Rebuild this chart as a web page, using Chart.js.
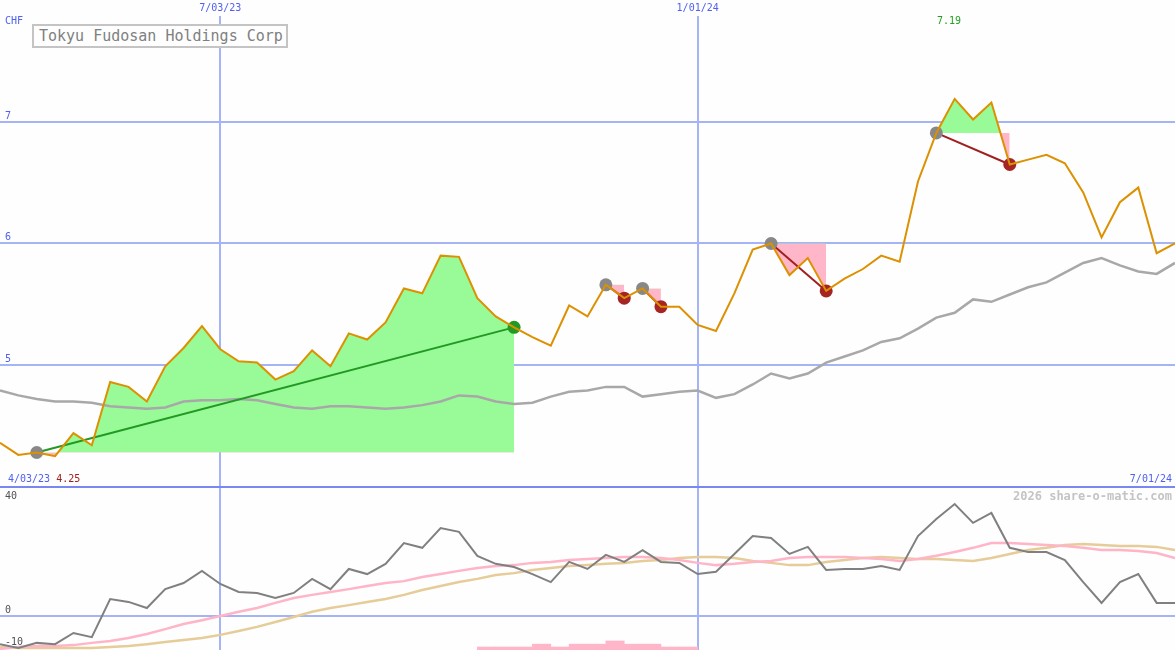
<!DOCTYPE html>
<html lang="en">
<head>
<meta charset="UTF-8">
<title>Tokyu Fudosan Holdings Corp</title>
<script src="https://cdn.jsdelivr.net/npm/chart.js@4.4.1/dist/chart.umd.min.js"></script>
<style>
    body { margin: 0; background: #fff; }
    #wrap { position: relative; width: 1175px; height: 650px; overflow: hidden; background: #fdfefd; font-family: "DejaVu Sans Mono", monospace; }
    #main { position: absolute; left: 0; top: 0; }
    #osc { position: absolute; left: 0; top: 488px; }
    .lbl { position: absolute; font-size: 10px; line-height: 12px; white-space: nowrap; }
    .blue { color: #5060f0; }
    #title { position: absolute; left: 32px; top: 24px; width: 247px; height: 20px; border: 2px solid #c4c4c4; background: #fdfefd;
             color: #808080; font-size: 15px; line-height: 20px; padding-left: 5px; box-sizing: content-box; white-space: nowrap; }
    #sep { position: absolute; left: 0; top: 486px; width: 1175px; height: 2px; background: #7888f0; }
    #mark { position: absolute; right: 3px; top: 490px; font-size: 12px; line-height: 12px; font-weight: bold; color: #c4c4c4; }
</style>
</head>
<body>
<div id="wrap">
    <canvas id="main" width="1175" height="488"></canvas>
    <canvas id="osc" width="1175" height="162"></canvas>
    <div id="sep"></div>
    <div class="lbl blue" style="left:5px; top:15px;">CHF</div>
    <div id="title">Tokyu Fudosan Holdings Corp</div>
    <div class="lbl" style="left:937px; top:15px; color:#22a022;">7.19</div>
    <div class="lbl blue" style="left:8px; top:473px;">4/03/23 <span style="color:#a02020;">4.25</span></div>
    <div class="lbl blue" style="right:3px; top:473px;">7/01/24</div>
    <div id="mark">2026 share-o-matic.com</div>
    <div class="lbl" style="left:5px; top:490px; color:#505050;">40</div>
</div>

<script>
// weekly closes, CHF (week 0 .. 64)
const price = [4.36, 4.26, 4.28, 4.25, 4.44, 4.34, 4.86, 4.82, 4.70, 4.99,
               5.14, 5.32, 5.13, 5.03, 5.02, 4.88, 4.95, 5.12, 4.99, 5.26,
               5.21, 5.35, 5.63, 5.59, 5.90, 5.89, 5.55, 5.40, 5.31, 5.23,
               5.16, 5.49, 5.40, 5.66, 5.55, 5.63, 5.48, 5.48, 5.33, 5.28,
               5.59, 5.95, 6.00, 5.74, 5.88, 5.61, 5.71, 5.79, 5.90, 5.85,
               6.51, 6.91, 7.19, 7.02, 7.16, 6.65, 6.69, 6.73, 6.66, 6.42,
               6.05, 6.34, 6.46, 5.92, 6.00];
// moving average (grey)
const avg = [4.79, 4.75, 4.72, 4.70, 4.70, 4.69, 4.66, 4.65, 4.64, 4.65,
             4.70, 4.71, 4.71, 4.72, 4.71, 4.68, 4.65, 4.64, 4.66, 4.66,
             4.65, 4.64, 4.65, 4.67, 4.70, 4.75, 4.74, 4.70, 4.68, 4.69,
             4.74, 4.78, 4.79, 4.82, 4.82, 4.74, 4.76, 4.78, 4.79, 4.73,
             4.76, 4.84, 4.93, 4.89, 4.93, 5.02, 5.07, 5.12, 5.19, 5.22,
             5.30, 5.39, 5.43, 5.54, 5.52, 5.58, 5.64, 5.68, 5.76, 5.84,
             5.88, 5.82, 5.77, 5.75, 5.84];
// lower panel: momentum (dark grey), slow average (pink), signal (tan)
const mom = [-8.8, -10.0, -8.4, -8.8, -5.3, -6.6, 5.3, 4.4, 2.5, 8.4,
             10.3, 14.1, 10.0, 7.5, 7.2, 5.6, 7.2, 11.6, 8.4, 14.7,
             13.1, 16.3, 22.8, 21.3, 27.5, 26.3, 18.8, 16.3, 15.3, 13.1,
             10.6, 16.9, 14.7, 19.1, 16.9, 20.6, 16.9, 16.6, 13.1, 13.8,
             19.4, 25.0, 24.4, 19.4, 21.6, 14.4, 14.7, 14.7, 15.6, 14.4,
             25.0, 30.3, 35.0, 29.1, 32.2, 21.3, 20.0, 20.0, 17.5, 10.6,
             4.1, 10.6, 13.1, 4.1, 4.1];
const slow = [-10.3, -9.7, -9.4, -9.4, -9.1, -8.4, -7.8, -6.9, -5.6, -4.1,
              -2.5, -1.3, 0.0, 1.3, 2.5, 4.1, 5.6, 6.6, 7.5, 8.4,
              9.4, 10.3, 10.9, 12.2, 13.1, 14.1, 15.0, 15.6, 15.9, 16.6,
              16.9, 17.5, 17.8, 18.1, 18.4, 18.4, 18.1, 17.5, 16.6, 15.9,
              16.3, 16.9, 17.2, 18.1, 18.4, 18.4, 18.4, 18.1, 17.8, 17.2,
              17.8, 18.8, 20.0, 21.3, 22.8, 22.8, 22.5, 22.2, 21.9, 21.3,
              20.6, 20.6, 20.3, 19.7, 18.1];
const signal = [-9.7, -10.0, -10.0, -10.0, -10.0, -10.0, -9.7, -9.4, -8.8, -8.1,
                -7.5, -6.9, -5.9, -4.7, -3.4, -1.9, -0.3, 1.3, 2.5, 3.4,
                4.4, 5.3, 6.6, 8.1, 9.4, 10.6, 11.6, 12.8, 13.4, 14.4,
                15.0, 15.6, 15.9, 16.3, 16.6, 17.2, 17.5, 18.1, 18.4, 18.4,
                18.1, 17.2, 16.6, 15.9, 15.9, 16.9, 17.5, 18.1, 18.4, 18.1,
                17.8, 17.8, 17.5, 17.2, 18.1, 19.4, 20.6, 21.3, 22.2, 22.5,
                22.2, 21.9, 21.9, 21.6, 20.6];
// pink histogram, weeks 26 .. 37
const histWeeks = [26, 27, 28, 29, 30, 31, 32, 33, 34, 35, 36, 37];
const histVals = [-9.7, -9.7, -9.7, -8.8, -9.7, -8.8, -8.8, -7.8, -8.8, -8.8, -9.7, -9.7];
// trades: entry week, exit week
const entryWeeks = [2, 33, 35, 42, 51];
const exitWeeks = [28, 34, 36, 45, 55];
// axis ticks
const tickWeeks = [12, 38];
const tickLabels = ['7/03/23', '1/01/24'];
const priceTicks = [5, 6, 7];
const oscTicks = [-10, 0];

const gridBlue = '#a4b4f4';
const tickFont = { family: 'DejaVu Sans Mono', size: 10 };
const pts = arr => arr.map((v, i) => ({ x: i, y: v }));
// y axes sit inside the plot: no width and no label padding
const flatY = s => { s.width = 0; s.paddingTop = 0; s.paddingBottom = 0; };

const xTickScale = {
    type: 'linear', min: 0, max: price.length - 1, offset: false,
    afterBuildTicks: s => { s.ticks = tickWeeks.map(v => ({ value: v })); },
    grid: { color: gridBlue, lineWidth: 2, drawTicks: false, offset: false },
    border: { display: false }
};

// main chart datasets
const mainSets = [
    { data: pts(price), borderColor: '#dd9000', borderWidth: 2, pointRadius: 0, order: 0 },
    { data: pts(avg), borderColor: '#a8a8a8', borderWidth: 2.5, pointRadius: 0, order: 5 }
];
const dots = [], dotColors = [];
entryWeeks.forEach((s, k) => {
    const e = exitWeeks[k];
    const base = price[s];
    const win = price[e] > base;
    const seg = [];
    for (let i = s; i <= e; i++) seg.push({ x: i, y: price[i] });
    mainSets.push({ data: seg, borderWidth: 0, pointRadius: 0, order: 6,
        fill: { value: base, above: '#98fb98', below: '#ffb6c8' } });
    mainSets.push({ data: [{ x: s, y: base }, { x: e, y: price[e] }],
        borderColor: win ? '#229922' : '#a02020', borderWidth: 2, pointRadius: 0, order: 3 });
    dots.push({ x: s, y: base }, { x: e, y: price[e] });
    dotColors.push('#888888', win ? '#229922' : '#a52525');
});
mainSets.push({ data: dots, showLine: false, pointRadius: 6.5, pointHoverRadius: 6.5,
    pointBackgroundColor: dotColors, pointBorderWidth: 0, order: 1 });

new Chart(document.getElementById('main'), {
    type: 'line',
    data: { datasets: mainSets },
    options: {
        responsive: false, animation: false,
        layout: { padding: 0, autoPadding: false },
        plugins: { legend: { display: false }, tooltip: { enabled: false } },
        elements: { line: { tension: 0 } },
        scales: {
            x: Object.assign({}, xTickScale, {
                position: 'top',
                afterFit: s => { s.height = 16; s.paddingLeft = 0; s.paddingRight = 0; },
                ticks: { callback: v => tickLabels[tickWeeks.indexOf(v)], color: '#5060f0', font: tickFont,
                         padding: 2, maxRotation: 0, autoSkip: false }
            }),
            y: {
                min: 3.988, max: 7.872,
                afterBuildTicks: s => { s.ticks = priceTicks.map(v => ({ value: v })); },
                afterFit: flatY,
                ticks: { mirror: true, padding: 5, labelOffset: -6, color: '#5060f0', font: tickFont },
                grid: { color: gridBlue, lineWidth: 2, drawTicks: false },
                border: { display: false }
            }
        }
    }
});

const oscMin = -10.625;
new Chart(document.getElementById('osc'), {
    type: 'line',
    data: {
        datasets: [
            { data: pts(mom), borderColor: '#808080', borderWidth: 2, pointRadius: 0, order: 0 },
            { data: pts(slow), borderColor: '#ffb4c8', borderWidth: 2.5, pointRadius: 0, order: 1 },
            { data: pts(signal), borderColor: '#e6cc98', borderWidth: 2.5, pointRadius: 0, order: 2 },
            { type: 'bar', data: histWeeks.map((w, i) => ({ x: w + 0.5, y: histVals[i] })), base: oscMin,
              backgroundColor: '#ffb6c8', borderWidth: 0, barPercentage: 1, categoryPercentage: 1, order: 3 }
        ]
    },
    options: {
        responsive: false, animation: false,
        layout: { padding: 0, autoPadding: false },
        plugins: { legend: { display: false }, tooltip: { enabled: false } },
        elements: { line: { tension: 0 } },
        scales: {
            x: Object.assign({}, xTickScale, {
                afterFit: s => { s.height = 0; s.paddingLeft = 0; s.paddingRight = 0; },
                ticks: { display: false }
            }),
            y: {
                min: oscMin, max: 40,
                afterBuildTicks: s => { s.ticks = oscTicks.map(v => ({ value: v })); },
                afterFit: flatY,
                ticks: { mirror: true, padding: 5, labelOffset: -6, color: '#505050', font: tickFont },
                grid: { color: ctx => ctx.tick && ctx.tick.value === 0 ? gridBlue : 'rgba(0,0,0,0)', lineWidth: 2, drawTicks: false },
                border: { display: false }
            }
        }
    }
});
</script>
</body>
</html>
